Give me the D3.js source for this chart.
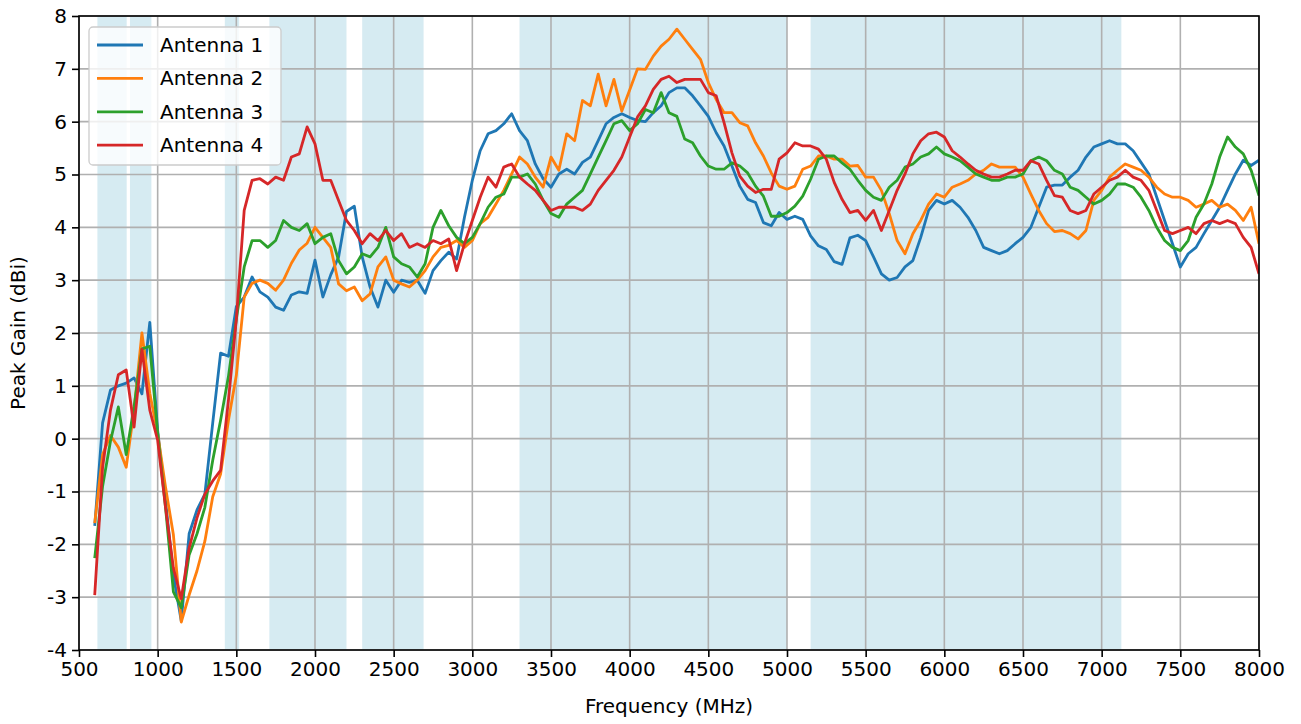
<!DOCTYPE html>
<html>
<head>
<meta charset="utf-8">
<script src="https://cdn.jsdelivr.net/npm/d3@7"></script>
<style>
  body { margin: 0; background: #fff; }
  svg text { font-family: "DejaVu Sans", sans-serif; fill: #000; }
</style>
</head>
<body>
<script>
// frequency grid of the measurement (MHz)
const freqs = d3.range(600, 8001, 50);

const names = ["Antenna 1", "Antenna 2", "Antenna 3", "Antenna 4"];
const colors = ["#1f77b4", "#ff7f0e", "#2ca02c", "#d62728"];

const ant1 = [
  -1.65, 0.3, 0.92, 1.0, 1.05, 1.15, 0.85, 2.2, 0.15, -1.18,
  -2.58, -3.45, -1.8, -1.35, -1.05, 0.3, 1.62, 1.56, 2.5, 2.68,
  3.06, 2.78, 2.68, 2.49, 2.43, 2.72, 2.78, 2.75, 3.38, 2.68,
  3.1, 3.44, 4.3, 4.4, 3.44, 2.87, 2.49, 3.0, 2.77, 3.0,
  2.96, 3.0, 2.75, 3.18, 3.37, 3.53, 3.4, 4.19, 4.89, 5.45,
  5.77, 5.83, 5.96, 6.15, 5.83, 5.64, 5.2, 4.92, 4.76, 5.01,
  5.1, 5.01, 5.23, 5.33, 5.64, 5.96, 6.08, 6.15, 6.08, 6.02,
  6.0, 6.17, 6.3, 6.55, 6.64, 6.64, 6.49, 6.3, 6.1, 5.79,
  5.54, 5.16, 4.78, 4.53, 4.47, 4.09, 4.03, 4.28, 4.15, 4.21,
  4.15, 3.84, 3.65, 3.58, 3.35, 3.3, 3.8, 3.85, 3.75, 3.44,
  3.12, 3.0, 3.05, 3.25, 3.37, 3.81, 4.32, 4.51, 4.44, 4.51,
  4.38, 4.19, 3.94, 3.62, 3.56, 3.5, 3.56, 3.69, 3.81, 4.0,
  4.38, 4.76, 4.8, 4.8, 4.95, 5.08, 5.33, 5.52, 5.58, 5.64,
  5.58, 5.58, 5.45, 5.23, 5.01, 4.57, 4.13, 3.69, 3.25, 3.5,
  3.62, 3.88, 4.13, 4.38, 4.7, 5.01, 5.27, 5.17, 5.27
];
const ant2 = [
  -1.6, -0.3, 0.06, -0.16, -0.54, 0.54, 2.0, 0.86, 0.1, -0.92,
  -1.82, -3.47, -2.96, -2.5, -1.94, -1.1, -0.67, 0.35, 1.2, 2.68,
  2.94, 3.0, 2.94, 2.81, 3.0, 3.32, 3.57, 3.7, 4.0, 3.81,
  3.62, 2.93, 2.8, 2.87, 2.61, 2.74, 3.25, 3.44, 3.0, 2.93,
  2.87, 3.0, 3.18, 3.44, 3.62, 3.66, 3.75, 3.62, 3.75, 4.07,
  4.19, 4.44, 4.7, 5.01, 5.33, 5.2, 4.95, 4.76, 5.33, 5.08,
  5.77, 5.64, 6.4, 6.3, 6.9, 6.3, 6.8, 6.2, 6.6, 7.0,
  6.99, 7.24, 7.43, 7.56, 7.75, 7.56, 7.37, 7.18, 6.74, 6.42,
  6.17, 6.17, 5.98, 5.92, 5.6, 5.35, 5.03, 4.78, 4.72, 4.78,
  5.1, 5.16, 5.35, 5.35, 5.29, 5.29, 5.16, 5.17, 4.95, 4.95,
  4.7, 4.26, 3.75, 3.5, 3.88, 4.13, 4.44, 4.63, 4.57, 4.76,
  4.82, 4.89, 5.01, 5.08, 5.2, 5.14, 5.14, 5.14, 4.95, 4.63,
  4.32, 4.07, 3.92, 3.94, 3.88, 3.78, 3.94, 4.51, 4.7, 4.95,
  5.08, 5.2, 5.14, 5.08, 4.95, 4.76, 4.63, 4.57, 4.57, 4.51,
  4.38, 4.44, 4.51, 4.38, 4.44, 4.32, 4.13, 4.38, 3.69
];
const ant3 = [
  -2.26, -0.9, -0.05, 0.6, -0.3, 0.6, 1.7, 1.75, 0.1, -1.3,
  -2.9, -3.2, -2.2, -1.8, -1.3, -0.41, 0.35, 1.18, 2.26, 3.25,
  3.75, 3.75, 3.62, 3.75, 4.13, 4.0, 3.94, 4.07, 3.69, 3.81,
  3.88, 3.37, 3.12, 3.25, 3.5, 3.44, 3.62, 4.0, 3.44, 3.31,
  3.25, 3.06, 3.31, 4.0, 4.32, 4.03, 3.81, 3.69, 3.81, 4.07,
  4.38, 4.57, 4.63, 4.95, 4.95, 5.01, 4.82, 4.51, 4.26, 4.19,
  4.44, 4.57, 4.7, 5.01, 5.33, 5.64, 5.96, 6.02, 5.83, 5.96,
  6.23, 6.17, 6.55, 6.17, 6.1, 5.67, 5.6, 5.35, 5.16, 5.1,
  5.1, 5.22, 5.16, 5.03, 4.78, 4.59, 4.21, 4.21, 4.28, 4.4,
  4.59, 4.91, 5.29, 5.35, 5.35, 5.22, 5.1, 4.89, 4.7, 4.57,
  4.51, 4.76, 4.89, 5.14, 5.2, 5.33, 5.39, 5.52, 5.39, 5.33,
  5.26, 5.14, 5.01, 4.95, 4.89, 4.89, 4.95, 4.95, 5.01, 5.26,
  5.33, 5.26, 5.08, 5.01, 4.76, 4.7, 4.57, 4.44, 4.51, 4.63,
  4.82, 4.82, 4.76, 4.57, 4.32, 4.0, 3.75, 3.62, 3.56, 3.75,
  4.19, 4.44, 4.82, 5.33, 5.71, 5.52, 5.39, 5.08, 4.6
];
const ant4 = [
  -2.96, -0.54, 0.54, 1.21, 1.3, 0.22, 1.69, 0.54, -0.03, -1.3,
  -2.45, -3.03, -2.07, -1.5, -1.05, -0.8, -0.6, 0.73, 2.26, 4.32,
  4.89, 4.92, 4.82, 4.95, 4.89, 5.33, 5.39, 5.9, 5.58, 4.89,
  4.89, 4.51, 4.13, 3.94, 3.69, 3.88, 3.75, 3.94, 3.75, 3.88,
  3.62, 3.69, 3.62, 3.75, 3.69, 3.78, 3.18, 3.69, 4.13, 4.57,
  4.95, 4.76, 5.14, 5.2, 4.95, 4.82, 4.7, 4.51, 4.32, 4.38,
  4.38, 4.38, 4.32, 4.44, 4.7, 4.89, 5.08, 5.33, 5.71, 6.09,
  6.3, 6.61, 6.8, 6.86, 6.74, 6.8, 6.8, 6.8, 6.55, 6.49,
  5.98, 5.41, 4.97, 4.78, 4.66, 4.72, 4.72, 5.29, 5.41, 5.6,
  5.54, 5.54, 5.48, 5.29, 4.85, 4.53, 4.28, 4.32, 4.13, 4.32,
  3.94, 4.32, 4.7, 5.01, 5.39, 5.64, 5.77, 5.8, 5.71, 5.45,
  5.33, 5.2, 5.08, 5.01, 4.95, 4.95, 5.01, 5.08, 5.08, 5.26,
  5.2, 4.89, 4.6, 4.57, 4.32, 4.26, 4.32, 4.63, 4.76, 4.89,
  4.95, 5.08, 4.95, 4.89, 4.7, 4.32, 3.94, 3.88, 3.94, 4.0,
  3.88, 4.07, 4.13, 4.07, 4.13, 4.07, 3.81, 3.62, 3.12
];

// shaded operating bands (MHz)
const bandStart = [617, 824, 1427, 1710, 2300, 3300, 5150];
const bandEnd = [803, 960, 1518, 2200, 2690, 5000, 7125];

const xTicks = d3.range(500, 8001, 500);
const yTicks = d3.range(-4, 9, 1);

const W = 1301, H = 724;
const margin = { top: 16, right: 42, bottom: 74, left: 79 };
const width = W - margin.left - margin.right;
const height = H - margin.top - margin.bottom;

const x = d3.scaleLinear().domain([500, 8000]).range([0, width]);
const y = d3.scaleLinear().domain([-4, 8]).range([height, 0]);

const svg = d3.select("body").append("svg")
  .attr("width", W)
  .attr("height", H);

const main = svg.append("g")
  .attr("transform", `translate(${margin.left},${margin.top})`);

main.append("clipPath").attr("id", "clip")
  .append("rect").attr("width", width).attr("height", height);

// bands
main.append("g").selectAll("rect")
  .data(bandStart.map((s, i) => [s, bandEnd[i]]))
  .join("rect")
  .attr("x", d => x(d[0]))
  .attr("width", d => x(d[1]) - x(d[0]))
  .attr("y", 0)
  .attr("height", height)
  .attr("fill", "#add8e6")
  .attr("fill-opacity", 0.5);

// grid
const grid = main.append("g").attr("stroke", "#b0b0b0").attr("stroke-width", 1.6);
grid.selectAll(".gx").data(xTicks).join("line")
  .attr("x1", d => x(d)).attr("x2", d => x(d))
  .attr("y1", 0).attr("y2", height);
grid.selectAll(".gy").data(yTicks).join("line")
  .attr("y1", d => y(d)).attr("y2", d => y(d))
  .attr("x1", 0).attr("x2", width);

// lines
const series = [ant1, ant2, ant3, ant4];
const line = d3.line()
  .x((d, i) => x(freqs[i]))
  .y(d => y(d));

main.append("g").attr("clip-path", "url(#clip)")
  .selectAll("path")
  .data(series)
  .join("path")
  .attr("d", d => line(d))
  .attr("fill", "none")
  .attr("stroke", (d, i) => colors[i])
  .attr("stroke-width", 2.8)
  .attr("stroke-linejoin", "round");

// axes
const xAxis = d3.axisBottom(x).tickValues(xTicks).tickFormat(d => String(d))
  .tickSize(7).tickPadding(5).tickSizeOuter(0);
const yAxis = d3.axisLeft(y).tickValues(yTicks).tickFormat(d => String(d))
  .tickSize(7).tickPadding(5).tickSizeOuter(0);

main.append("g")
  .attr("transform", `translate(0,${height})`)
  .call(xAxis)
  .call(g => g.select(".domain").remove());
main.append("g")
  .call(yAxis)
  .call(g => g.select(".domain").remove());

main.selectAll(".tick line").attr("stroke", "#000").attr("stroke-width", 1.6);
main.selectAll(".tick text")
  .attr("font-size", 20)
  .attr("font-family", "DejaVu Sans")
  .attr("fill", "#000");

// frame
main.append("rect")
  .attr("width", width).attr("height", height)
  .attr("fill", "none").attr("stroke", "#000").attr("stroke-width", 1.6);

// axis labels
svg.append("text")
  .attr("x", margin.left + width / 2)
  .attr("y", 713)
  .attr("text-anchor", "middle")
  .attr("font-size", 20)
  .text("Frequency (MHz)");

svg.append("text")
  .attr("transform", `translate(25,${margin.top + height / 2}) rotate(-90)`)
  .attr("text-anchor", "middle")
  .attr("font-size", 20)
  .text("Peak Gain (dBi)");

// legend
const legend = main.append("g").attr("transform", "translate(10,11)");
legend.append("rect")
  .attr("width", 192).attr("height", 138)
  .attr("rx", 4)
  .attr("fill", "#fff").attr("fill-opacity", 0.8)
  .attr("stroke", "#cccccc").attr("stroke-width", 1.3);

const items = legend.selectAll(".item")
  .data(names)
  .join("g")
  .attr("transform", (d, i) => `translate(0,${18 + i * 33.4})`);
items.append("line")
  .attr("x1", 8).attr("x2", 54)
  .attr("stroke", (d, i) => colors[i])
  .attr("stroke-width", 2.8);
items.append("text")
  .attr("x", 71)
  .attr("dy", "0.35em")
  .attr("font-size", 20)
  .text(d => d);
</script>
</body>
</html>
